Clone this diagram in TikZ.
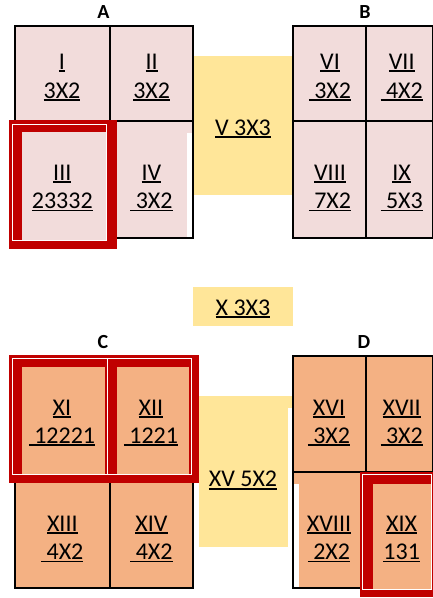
\documentclass[tikz,border=0pt]{standalone}
\usepackage{fontspec}
\setmainfont{Carlito}
\definecolor{cellpink}{HTML}{F2DCDB}
\definecolor{cellorange}{HTML}{F4B183}
\definecolor{cellyellow}{HTML}{FFE699}
\definecolor{hired}{HTML}{C00000}
\newcommand\cellfont{\fontsize{24}{29}\selectfont}
\newcommand\lblfont{\fontsize{20}{24}\selectfont\bfseries}
\newcommand\undl[1]{\setbox0\hbox{#1}\rlap{\rule[-2.8pt]{\wd0}{1.6pt}}\box0}
\tikzset{
  celltxt/.style={font=\cellfont, anchor=base, inner sep=0pt},
  grplbl/.style={font=\lblfont, anchor=base, inner sep=0pt},
  gridline/.style={draw=black, line width=1.3pt},
  hiframe/.style={draw=white, line width=1pt},
}
\begin{document}
\begin{tikzpicture}[x=1pt,y=-1pt]
\clip (0,0) rectangle (433,598);
\fill[white] (0,0) rectangle (433,598);
% ---------- top section ----------
\fill[cellpink] (15,26) rectangle (193,238);
\fill[cellpink] (293,26) rectangle (440,238);
\fill[cellyellow] (193,56) rectangle (293,195);
\fill[white] (187,133) rectangle (193,238);
\draw[gridline] (15,26) rectangle (193,238);
\draw[gridline] (110,26) -- (110,238);
\draw[gridline] (15,121) -- (193,121);
\draw[gridline] (293,26) rectangle (433,238);
\draw[gridline] (366,26) -- (366,238);
\draw[gridline] (293,121) -- (433,121);
% highlight III
\fill[hired] (9,120) rectangle (117,249);
\fill[cellpink] (22,132) rectangle (106,239.5);
\draw[hiframe] (12,124) rectangle (106,240);
% ---------- bottom section ----------
\fill[cellyellow] (193,287) rectangle (293,326);
\fill[cellorange] (15,356) rectangle (193,588);
\fill[cellorange] (293,356) rectangle (440,588);
\fill[cellyellow] (199,396) rectangle (293,547);
\fill[white] (288,408) rectangle (293,547);
\fill[white] (293,484) rectangle (299,588);
\draw[gridline] (15,356) rectangle (193,588);
\draw[gridline] (110,356) -- (110,588);
\draw[gridline] (15,482) -- (193,482);
\draw[gridline] (293,356) rectangle (433,588);
\draw[gridline] (366,356) -- (366,472);
\draw[gridline] (293,472) -- (433,472);
\draw[gridline] (361,472) -- (361,588);
% highlight XI + XII
\fill[hired] (9,355) rectangle (199,483);
\fill[cellorange] (22,367) rectangle (105,474);
\fill[cellorange] (117,367) rectangle (189,474);
\draw[hiframe] (12,358) rectangle (191,474);
\draw[hiframe] (107,358) -- (107,474);
% highlight XIX
\fill[hired] (360,471.7) rectangle (440,597.3);
\fill[cellorange] (373,484) rectangle (431,589);
\draw[hiframe] (362.7,474.3) rectangle (431,589.3);
% ---------- labels ----------
\node[grplbl] (lA) at (103.5,18.5) {A};
\node[grplbl] (lB) at (365,18.5) {B};
\node[grplbl] (lC) at (103,348) {C};
\node[grplbl] (lD) at (364,348) {D};
% ---------- cell texts ----------
\node[celltxt] (t1a) at (62,69) {\undl{I}};
\node[celltxt] (t1b) at (62,98) {\undl{3X2}};
\node[celltxt] (t2a) at (151.7,69) {\undl{II}};
\node[celltxt] (t2b) at (151.7,98) {\undl{3X2}};
\node[celltxt] (t3a) at (62.3,180) {\undl{III}};
\node[celltxt] (t3b) at (62.3,208.5) {\undl{23332}};
\node[celltxt] (t4a) at (151.5,180) {\undl{IV}};
\node[celltxt] (t4b) at (151.5,208.5) {\undl{\ 3X2}};
\node[celltxt] (t5) at (243,135) {\undl{V 3X3}};
\node[celltxt] (t6a) at (330,69) {\undl{VI}};
\node[celltxt] (t6b) at (330,98) {\undl{\ 3X2}};
\node[celltxt] (t7a) at (401.7,69) {\undl{VII}};
\node[celltxt] (t7b) at (401.7,98) {\undl{\ 4X2}};
\node[celltxt] (t8a) at (330,180) {\undl{VIII}};
\node[celltxt] (t8b) at (330,208.5) {\undl{\ 7X2}};
\node[celltxt] (t9a) at (401.7,180) {\undl{IX}};
\node[celltxt] (t9b) at (401.7,208.5) {\undl{\ 5X3}};
\node[celltxt] (t10) at (243,315) {\undl{X 3X3}};
\node[celltxt] (t11a) at (62,415) {\undl{XI}};
\node[celltxt] (t11b) at (62,443) {\undl{\ 12221}};
\node[celltxt] (t12a) at (151,415) {\undl{XII}};
\node[celltxt] (t12b) at (151,443) {\undl{\ 1221}};
\node[celltxt] (t13a) at (62.3,531) {\undl{XIII}};
\node[celltxt] (t13b) at (62.3,559.5) {\undl{\ 4X2}};
\node[celltxt] (t14a) at (151.5,531) {\undl{XIV}};
\node[celltxt] (t14b) at (151.5,559.5) {\undl{\ 4X2}};
\node[celltxt] (t15) at (243,486.7) {\undl{XV 5X2}};
\node[celltxt] (t16a) at (329,415) {\undl{XVI}};
\node[celltxt] (t16b) at (329,443) {\undl{\ 3X2}};
\node[celltxt] (t17a) at (401.7,415) {\undl{XVII}};
\node[celltxt] (t17b) at (401.7,443) {\undl{\ 3X2}};
\node[celltxt] (t18a) at (329,531) {\undl{XVIII}};
\node[celltxt] (t18b) at (329,559.5) {\undl{\ 2X2}};
\node[celltxt] (t19a) at (401.7,531) {\undl{XIX}};
\node[celltxt] (t19b) at (401.7,559.5) {\undl{131}};
\end{tikzpicture}
\end{document}
